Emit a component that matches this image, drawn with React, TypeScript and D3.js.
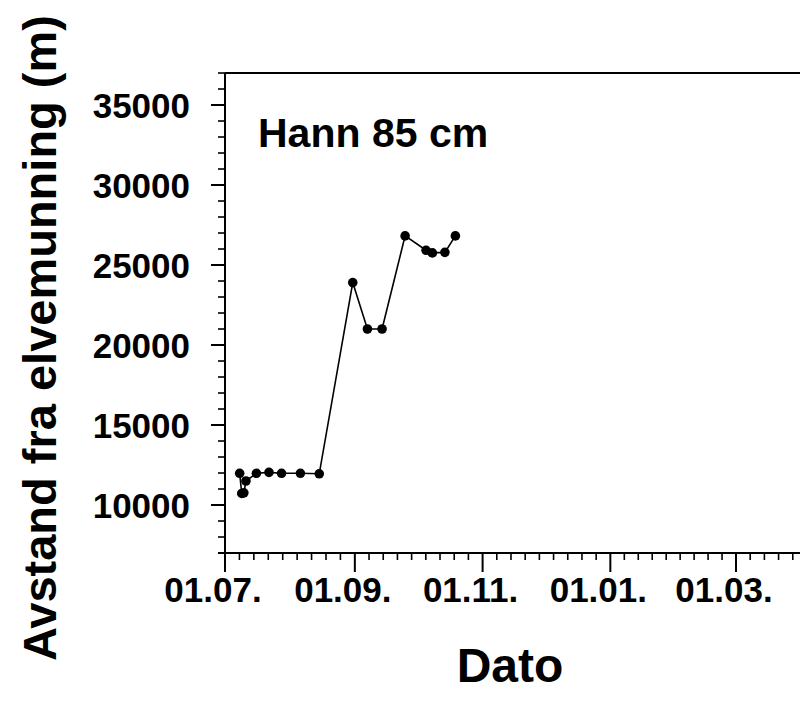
import React from "react";
import * as d3 from "d3";

const dates: string[] = [
  "2007-07-08", "2007-07-09", "2007-07-10", "2007-07-11", "2007-07-16", "2007-07-22",
  "2007-07-28", "2007-08-06", "2007-08-15", "2007-08-31", "2007-09-07", "2007-09-14",
  "2007-09-25", "2007-10-05", "2007-10-08", "2007-10-14", "2007-10-19",
];
const distances: number[] = [
  11980, 10720, 10760, 11500, 11980, 12040, 11980, 11980, 11950, 23900, 21000, 21000,
  26820, 25920, 25760, 25790, 26820,
];
const xMajorDates: string[] = ["2007-07-01", "2007-09-01", "2007-11-01", "2008-01-01", "2008-03-01", "2008-05-01"];
const xTickLabels: string[] = ["01.07.", "01.09.", "01.11.", "01.01.", "01.03.", ""];
const yMajorTicks: number[] = [10000, 15000, 20000, 25000, 30000, 35000];
const yTickLabels: string[] = ["10000", "15000", "20000", "25000", "30000", "35000"];
const panelLabel = "Hann 85 cm";
const xTitle = "Dato";
const yTitle = "Avstand fra elvemunning (m)";

const FONT = "Arial, 'Liberation Sans', Helvetica, sans-serif";

export default function App() {
  const parse = d3.timeParse("%Y-%m-%d");
  const x = d3
    .scaleTime()
    .domain([parse("2007-07-01")!, parse("2008-03-01")!])
    .range([225, 736]);
  const y = d3.scaleLinear().domain([7000, 37000]).range([553, 73]);

  const pts = dates.map((d, i) => ({ x: x(parse(d)!), y: y(distances[i]) }));
  const line = d3
    .line<{ x: number; y: number }>()
    .x((d) => d.x)
    .y((d) => d.y);

  const majors = xMajorDates.map((d) => x(parse(d)!));
  const minors: number[] = [];
  for (let i = 0; i < majors.length - 1; i++) {
    for (let k = 1; k < 9; k++) minors.push(majors[i] + ((majors[i + 1] - majors[i]) * k) / 9);
  }
  const yMinor = d3.range(7000, 37001, 1000).filter((v) => v % 5000 !== 0);

  const x0 = x.range()[0];
  const yBot = y.range()[0];
  const yTop = y.range()[1];

  return (
    <svg
      width={800}
      height={711}
      style={{ position: "absolute", left: 0, top: 0, background: "#fff" }}
      fontFamily={FONT}
      fontWeight="bold"
    >
      <rect x={0} y={0} width={800} height={711} fill="#fff" />
      {/* frame */}
      <line x1={x0} x2={800} y1={yTop} y2={yTop} stroke="#000" strokeWidth={2} />
      <line x1={x0} x2={x0} y1={yTop} y2={yBot} stroke="#000" strokeWidth={2} />
      <line x1={x0 - 7} x2={800} y1={yBot} y2={yBot} stroke="#000" strokeWidth={2} />
      {/* y ticks */}
      {yMinor.map((v) => (
        <line key={"ym" + v} x1={x0 - 7} x2={x0} y1={y(v)} y2={y(v)} stroke="#000" strokeWidth={1.6} />
      ))}
      {yMajorTicks.map((v, i) => (
        <g key={"yM" + v}>
          <line x1={x0 - 14} x2={x0} y1={y(v)} y2={y(v)} stroke="#000" strokeWidth={2} />
          <text x={190} y={y(v) + 12.5} textAnchor="end" fontSize={35} fill="#000">
            {yTickLabels[i]}
          </text>
        </g>
      ))}
      {/* x ticks */}
      {minors.map((m, i) => (
        <line key={"xm" + i} x1={m} x2={m} y1={yBot} y2={yBot + 7} stroke="#000" strokeWidth={1.6} />
      ))}
      {majors.map((m, i) => (
        <g key={"xM" + i}>
          <line x1={m} x2={m} y1={yBot} y2={yBot + 19} stroke="#000" strokeWidth={2} />
          <text x={m - 12} y={602} textAnchor="middle" fontSize={35} fill="#000">
            {xTickLabels[i]}
          </text>
        </g>
      ))}
      {/* data */}
      <path d={line(pts) || ""} fill="none" stroke="#000" strokeWidth={1.6} />
      {pts.map((p, i) => (
        <circle key={"p" + i} cx={p.x} cy={p.y} r={4.8} fill="#000" />
      ))}
      <text x={258} y={147} fontSize={41} fill="#000">
        {panelLabel}
      </text>
      <text x={510} y={682} textAnchor="middle" fontSize={48} fill="#000">
        {xTitle}
      </text>
      <text
        transform={`translate(56,338) rotate(-90)`}
        textAnchor="middle"
        fontSize={47}
        fill="#000"
      >
        {yTitle}
      </text>
    </svg>
  );
}
